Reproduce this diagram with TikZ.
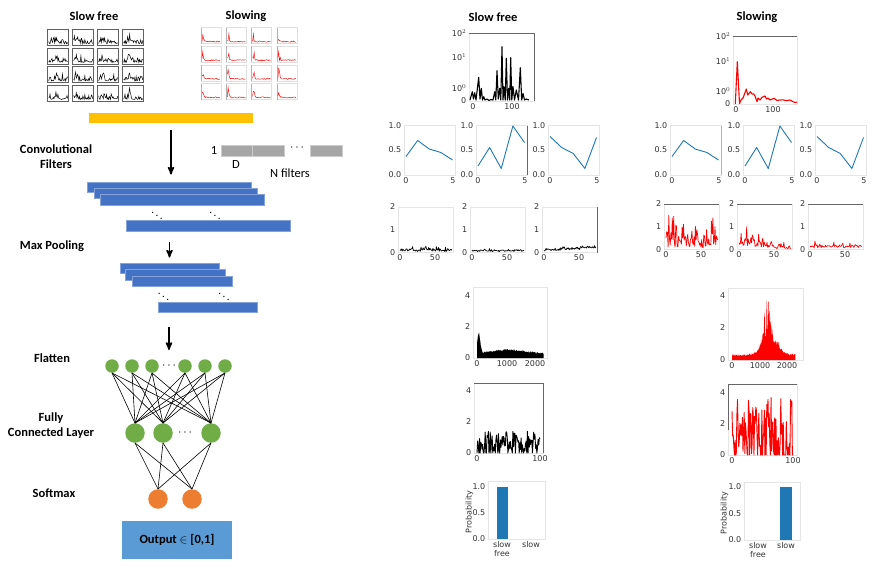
\documentclass[tikz,border=0pt]{standalone}
\usepackage{fontspec}
\usepackage{xcolor}
\setmainfont{Carlito}
\newfontfamily\tickfont{DejaVu Sans}
\usetikzlibrary{arrows}

\definecolor{convblue}{HTML}{4472C4}
\definecolor{inputyellow}{HTML}{FFC000}
\definecolor{nngreen}{HTML}{70AD47}
\definecolor{nnorange}{HTML}{ED7D31}
\definecolor{outblue}{HTML}{5B9BD5}
\definecolor{mplblue}{HTML}{1F77B4}
\definecolor{filtgray}{HTML}{A6A6A6}

\begin{document}
\begin{tikzpicture}[x=1pt,y=-1pt,>=stealth',node distance=20pt]
  \tikzstyle{heading}=[font=\fontsize{12.5}{15}\selectfont\bfseries,align=center,inner sep=1pt]
  \tikzstyle{note}=[font=\fontsize{12.5}{15}\selectfont,inner sep=1pt]
  \tikzstyle{featbar}=[rectangle,inner sep=0pt,minimum height=10.5pt,fill=convblue,draw=convblue!65!white,line width=0.4pt]
  \tikzstyle{filt}=[rectangle,inner sep=0pt,minimum width=31.5pt,minimum height=11pt,fill=filtgray,draw=gray!40,line width=0.4pt]
  \tikzstyle{flat}=[circle,inner sep=0pt,minimum size=13.5pt,fill=nngreen]
  \tikzstyle{dense}=[circle,inner sep=0pt,minimum size=19.5pt,fill=nngreen]
  \tikzstyle{soft}=[circle,inner sep=0pt,minimum size=19.5pt,fill=nnorange]
  \tikzstyle{outbox}=[rectangle,fill=outblue,minimum width=110pt,minimum height=38pt,font=\fontsize{12.5}{15}\selectfont\bfseries]
  \tikzstyle{flow}=[->,line width=1.6pt]
  \tikzstyle{wire}=[line width=0.6pt]
  \tikzstyle{axbox}=[draw=gray!20,line width=0.5pt]
  \tikzstyle{spine}=[draw=gray!80!black,line width=0.7pt]
  \tikzstyle{ytick}=[font=\tickfont\fontsize{8}{9}\selectfont,text=black!80,anchor=east,inner sep=1pt,xshift=-1.5pt]
  \tikzstyle{xtick}=[font=\tickfont\fontsize{8}{9}\selectfont,text=black!80,anchor=north,inner sep=1pt,yshift=-1pt,align=center]
  \tikzstyle{sig}=[line width=0.9pt,line join=round]
  \tikzstyle{dotsdiag}=[font=\fontsize{11}{11}\selectfont\boldmath,inner sep=0pt]
  \useasboundingbox (0,0) rectangle (872,581);

  % ---- network ----
  \node[heading] (sf) at (94,16) {Slow free};
  \node[heading] (sw) at (246,16) {Slowing};
  \foreach \rw in {0,...,3}
    \foreach \cl in {0,...,3}{
      \pgfmathtruncatemacro{\sd}{4*\rw+\cl+3}
      \pgfmathsetseed{\sd}
      \begin{scope}[shift={(47.7+25*\cl,45.3+18.6*\rw)},y=1pt]
        \draw[gray!75!black,line width=0.5pt] (0,0) rectangle (21,16);
        \draw[line width=0.5pt] plot[domain=1:20,samples=30] (\x,{1.5+7*rnd*rnd+7*rnd*exp(-(\x-3-2*mod(\sd,4))*(\x-3-2*mod(\sd,4))/3)});
      \end{scope}
      \begin{scope}[shift={(201+25.3*\cl,43.7+18.6*\rw)},y=1pt]
        \draw[gray!25,line width=0.5pt] (0,0) rectangle (20,16);
        \draw[gray!60,line width=0.6pt] (0,0) -- (0,16);
        \draw[red,line width=0.45pt] plot[domain=1:19,samples=24] (\x,{1.5+1.2*rnd+11*rnd*exp(-(\x-2)*(\x-2)/1.2)});
      \end{scope}
    }
  \node[rectangle,fill=inputyellow,minimum width=164pt,minimum height=10pt,inner sep=0pt] (inp) at (171,118) {};

  \node[heading] (convlab) at (56,157) {Convolutional\\Filters};
  \node[note] (one) at (214,150) {1};
  \node[filt] (g1) at (236.5,150.5) {};
  \node[filt] (g2) [right of=g1,node distance=31.5pt] {};
  \node[note] (gd) at (297,148) {$\cdots$};
  \node[filt] (g3) at (326,150.5) {};
  \node[note] (dlab) at (236,164) {D};
  \node[note] (nlab) at (290,173) {N filters};

  \node[featbar,minimum width=164pt] (cv1) at (169,187) {};
  \node[featbar,minimum width=163pt] (cv2) at (175.5,193) {};
  \node[featbar,minimum width=164pt] (cv3) at (182,199.5) {};
  \node[dotsdiag] (cvd1) at (157,213) {$\ddots$};
  \node[dotsdiag] (cvd2) at (215,213) {$\ddots$};
  \node[featbar,minimum width=164pt] (cvn) at (208,225.5) {};

  \node[heading] (poollab) at (52,246) {Max Pooling};
  \node[featbar,minimum width=99pt] (pl1) at (169.5,268) {};
  \node[featbar,minimum width=100pt] (pl2) at (175,274.5) {};
  \node[featbar,minimum width=100pt] (pl3) at (182,281) {};
  \node[dotsdiag] (pld1) at (163.5,293.5) {$\ddots$};
  \node[dotsdiag] (pld2) at (224,293.5) {$\ddots$};
  \node[featbar,minimum width=99pt] (pln) at (207.5,307) {};

  \node[heading] (flatlab) at (52,358) {Flatten};
  \node[flat] (f1) at (112,366) {};
  \node[flat] (f2) [right of=f1] {};
  \node[flat] (f3) [right of=f2] {};
  \node[note] (fdots) at (169,366) {$\cdots$};
  \node[flat] (f4) at (185,366) {};
  \node[flat] (f5) [right of=f4] {};
  \node[flat] (f6) [right of=f5] {};

  \node[heading] (fclab) at (51,425.5) {Fully\\Connected Layer};
  \node[dense] (c1) at (135,433) {};
  \node[dense] (c2) [right of=c1,node distance=28pt] {};
  \node[note] (cdots) at (185,433) {$\cdots$};
  \node[dense] (c3) at (211,433) {};

  \node[heading] (softlab) at (54,493) {Softmax};
  \node[soft] (s1) at (158,499) {};
  \node[soft] (s2) [right of=s1,node distance=34pt] {};
  \node[outbox] (out) at (177,540) {Output $\in$ [0,1]};

  \draw[flow,shorten <=7pt,shorten >=7pt] (inp) -- (inp |- cv1.north);
  \draw[flow,shorten <=11pt,shorten >=5pt] (pl1.north |- cvn.south) -- (pl1.north);
  \draw[flow,shorten <=15pt,shorten >=16pt] (fdots.center |- pln.south) -- (fdots.center);

  \path[wire]
    (f1.south) edge (c1.north) edge (c2.north) edge (c3.north)
    (f2.south) edge (c1.north) edge (c2.north) edge (c3.north)
    (f3.south) edge (c1.north) edge (c2.north) edge (c3.north)
    (f4.south) edge (c1.north) edge (c2.north) edge (c3.north)
    (f5.south) edge (c1.north) edge (c2.north) edge (c3.north)
    (f6.south) edge (c1.north) edge (c2.north) edge (c3.north);
  \path[wire]
    (c1.south) edge (s1.north) edge (s2.north)
    (c2.south) edge (s1.north) edge (s2.north)
    (c3.south) edge (s1.north) edge (s2.north);

  % ---- layer outputs ----
  \node[heading] (sft) at (493,17) {Slow free};
  \node[heading] (swt) at (757,17) {Slowing};

  % input spectra, log scale
  \draw[axbox] (469,33) rectangle (534,101);
  \draw[spine] (469,33) -- (534,33) -- (534,101);
  \foreach \vy/\tp [count=\kk] in {33/10$^2$,57/10$^1$,88/10$^0$,101/0}
    \node[ytick] (sa\kk) at (469,\vy) {\tp};
  \node[xtick] (sa5) at (473,101) {0};
  \node[xtick] (sa6) at (512,101) {100};
  \begin{scope}[shift={(469,101)},y=1pt]
    \draw[sig,line width=1.1pt] (1,1) -- (3.3,9.3) -- (4.5,2) -- (5.7,8.3) -- (7,1) -- (9.7,23.7) -- (11,2) -- (12.3,12.7)
      -- (13.5,1) -- (14.7,4.3) -- (16,1) -- (18,2) -- (20,0.5) -- (22,1.5) -- (24,1) -- (25.7,9.3) -- (26.8,1)
      -- (28,30.3) -- (29.3,2) -- (30.7,12.7) -- (31.8,1) -- (33,54.3) -- (34,1) -- (35,14.3) -- (36.2,1)
      -- (37.3,42.7) -- (38.5,1) -- (39.7,12.7) -- (40.7,1) -- (41.7,43.3) -- (42.8,1) -- (44,14.3) -- (45.5,1)
      -- (47.3,11) -- (49.5,1) -- (51.3,33.3) -- (52.7,1) -- (54,7.7) -- (55.5,1) -- (57.3,2) -- (60,1);
  \end{scope}

  \draw[axbox] (733,36) rectangle (797,104);
  \draw[spine] (733,36) -- (797,36);
  \foreach \vy/\tp [count=\kk] in {36/10$^2$,61/10$^1$,91/10$^0$,104/0}
    \node[ytick] (sb\kk) at (733,\vy) {\tp};
  \node[xtick] (sb5) at (736,104) {0};
  \node[xtick] (sb6) at (773,104) {100};
  \begin{scope}[shift={(733,104)},y=1pt]
    \draw[sig,red,line width=1.1pt] (2.3,0) -- (4.3,42.3) -- (6.5,0.5) -- (8,4) -- (10,6) -- (13.3,15) -- (14.7,9)
      -- (17.3,12.3) -- (19,10) -- (20.7,10) -- (22,8) -- (24,2.3) -- (25,6) -- (27,4) -- (29,6.7) -- (32,8)
      -- (33.5,5) -- (35,6) -- (37,4) -- (41,5.7) -- (44,3.5) -- (47,4) -- (50,4.2) -- (53,3.3) -- (57,4)
      -- (60,2.3) -- (62,1.5) -- (64,2);
  \end{scope}

  % convolution filters
  \foreach \lx [count=\kk] in {404,476,548,670,743,815}{
    \draw[axbox] (\lx,125.5) rectangle ++(51,49.5);
    \node[ytick] (w\kk-a) at (\lx,125.5) {1.0};
    \node[ytick] (w\kk-b) at (\lx,150) {0.5};
    \node[ytick] (w\kk-c) at (\lx,175) {0.0};
    \node[xtick] (w\kk-d) at (\lx+2,175) {0};
    \node[xtick] (w\kk-e) at (\lx+49,175) {5};
  }
  \draw[spine] (527,125.5) -- (527,175);
  \draw[spine,draw=gray!60] (721,125.5) -- (721,175);
  \foreach \lx in {406,672}{
    \begin{scope}[shift={(\lx,175)},x=9.3pt,y=50pt]
      \draw[sig,mplblue] (0,.37) -- (1.25,.69) -- (2.5,.52) -- (3.75,.45) -- (5,.3);
    \end{scope}}
  \foreach \lx in {478,745}{
    \begin{scope}[shift={(\lx,175)},x=9.3pt,y=50pt]
      \draw[sig,mplblue] (0,.18) -- (1.25,.55) -- (2.5,.13) -- (3.75,.98) -- (5,.65);
    \end{scope}}
  \foreach \lx in {550,817}{
    \begin{scope}[shift={(\lx,175)},x=9.3pt,y=50pt]
      \draw[sig,mplblue] (0,.77) -- (1.25,.55) -- (2.5,.43) -- (3.75,.13) -- (5,.75);
    \end{scope}}

  % convolution outputs
  \foreach \lx/\tp [count=\kk] in {398/207,470/207,542/207,664/204,737/204,808/204}{
    \draw[axbox] (\lx,\tp) rectangle ++(55,45.5);
    \node[ytick] (v\kk-a) at (\lx,\tp) {2};
    \node[ytick] (v\kk-b) at (\lx,\tp+22.75) {1};
    \node[ytick] (v\kk-c) at (\lx,\tp+45.5) {0};
    \node[xtick] (v\kk-d) at (\lx+2,\tp+45.5) {0};
    \node[xtick] (v\kk-e) at (\lx+37,\tp+45.5) {50};
  }
  \draw[spine] (597,207) -- (597,252.5);
  \draw[spine] (664,204) -- (719,204) (737,204) -- (792,204) (808,204) -- (863,204);
  \pgfmathsetseed{21}
  \begin{scope}[shift={(400,252.5)},x=0.7pt,y=22.75pt]
    \draw[sig,line width=0.7pt] plot[domain=0:74,samples=75] (\x,{0.04+0.2*rnd*rnd+0.08*rnd});
  \end{scope}
  \begin{scope}[shift={(472,252.5)},x=0.7pt,y=22.75pt]
    \draw[sig,line width=0.7pt] plot[domain=0:74,samples=75] (\x,{0.03+0.12*rnd*rnd+0.05*rnd});
  \end{scope}
  \begin{scope}[shift={(544,252.5)},x=0.7pt,y=22.75pt]
    \draw[sig,line width=0.7pt] plot[domain=0:74,samples=75] (\x,{0.04+0.15*rnd*rnd+0.07*rnd+0.12*\x/74});
  \end{scope}
  \begin{scope}[shift={(666,249.5)},x=0.7pt,y=22.75pt]
    \draw[sig,red,line width=0.7pt] plot[domain=0:74,samples=75] (\x,{min(1.62,1.5*rnd*rnd+0.35*rnd)});
  \end{scope}
  \begin{scope}[shift={(739,249.5)},x=0.7pt,y=22.75pt]
    \draw[sig,red,line width=0.7pt] plot[domain=0:74,samples=75] (\x,{(0.15+1.3*rnd*rnd)*exp(-\x/40)+0.08*rnd});
  \end{scope}
  \begin{scope}[shift={(810,249.5)},x=0.7pt,y=22.75pt]
    \draw[sig,red,line width=0.7pt] plot[domain=0:74,samples=75] (\x,{0.05+0.25*rnd*rnd+0.1*rnd});
  \end{scope}

  % flattened features
  \draw[axbox] (473,287) rectangle (547,358);
  \foreach \vy/\tp [count=\kk] in {296/4,327/2,358/0}
    \node[ytick] (fa\kk) at (473,\vy) {\tp};
  \node[xtick] (fa4) at (477,358) {0};
  \node[xtick] (fa5) at (507,358) {1000};
  \node[xtick] (fa6) at (535,358) {2000};
  \begin{scope}[shift={(477,358)},x=0.029pt,y=15.5pt]
    \fill[black] (0,0) -- plot[domain=0:2300,samples=160] (\x,{0.22+1.3*exp(-((\x-60)/70)*((\x-60)/70))+0.25*exp(-((\x-1100)/800)*((\x-1100)/800))+0.12*rnd}) -- (2300,0) -- cycle;
  \end{scope}

  \draw[axbox] (728,288) rectangle (803,360);
  \foreach \vy/\tp [count=\kk] in {296/4,328/2,360/0}
    \node[ytick] (fb\kk) at (728,\vy) {\tp};
  \node[xtick] (fb4) at (732,360) {0};
  \node[xtick] (fb5) at (760,360) {1000};
  \node[xtick] (fb6) at (787,360) {2000};
  \begin{scope}[shift={(732,360)},x=0.0275pt,y=15.5pt]
    \fill[red] (0,0) -- plot[domain=0:2300,samples=160] (\x,{0.25+0.15*rnd+0.9*exp(-((\x-1350)/380)*((\x-1350)/380))+2.9*rnd*exp(-((\x-1280)/170)*((\x-1280)/170))+0.5*rnd*exp(-((\x-1700)/150)*((\x-1700)/150))}) -- (2300,0) -- cycle;
  \end{scope}

  % fully connected outputs
  \draw[axbox] (474,383) rectangle (543,453);
  \draw[spine] (474,383) -- (543,383) -- (543,453);
  \foreach \vy/\tp [count=\kk] in {391/4,422/2,453/0}
    \node[ytick] (da\kk) at (474,\vy) {\tp};
  \node[xtick] (da4) at (477,453) {0};
  \node[xtick] (da5) at (540,453) {100};
  \begin{scope}[shift={(477,453)},x=0.63pt,y=15.5pt]
    \draw[sig] plot[domain=0:100,samples=101] (\x,{max(0,1.7*rnd-0.3)});
  \end{scope}

  \draw[axbox] (728,384) rectangle (797,455);
  \draw[spine] (728,430) -- (728,384) -- (797,384);
  \foreach \vy/\tp [count=\kk] in {393/4,424/2,455/0}
    \node[ytick] (db\kk) at (728,\vy) {\tp};
  \node[xtick] (db4) at (732,455) {0};
  \node[xtick] (db5) at (793,455) {100};
  \begin{scope}[shift={(732,455)},x=0.61pt,y=15.5pt]
    \draw[sig,red] plot[domain=0:100,samples=101] (\x,{min(3.9,max(0,5.5*rnd-1.6))});
  \end{scope}

  % softmax probabilities
  \draw[axbox] (488,481) rectangle (545,539);
  \foreach \vy/\tp [count=\kk] in {487/1.0,513/0.5,539/0.0}
    \node[ytick] (pa\kk) at (488,\vy) {\tp};
  \fill[mplblue] (497,487) rectangle (508,539);
  \node[xtick] (pa4) at (502,539) {slow\\free};
  \node[xtick] (pa5) at (531,539) {slow};
  \node[xtick,anchor=center,rotate=90] (pa6) at (469.5,511) {Probability};

  \draw[axbox] (744,482) rectangle (800,540);
  \foreach \vy/\tp [count=\kk] in {487/1.0,513.5/0.5,540/0.0}
    \node[ytick] (pb\kk) at (744,\vy) {\tp};
  \fill[mplblue] (780,487) rectangle (792,540);
  \node[xtick] (pb4) at (758,540) {slow\\free};
  \node[xtick] (pb5) at (786,540) {slow};
  \node[xtick,anchor=center,rotate=90] (pb6) at (724.5,512) {Probability};
\end{tikzpicture}
\end{document}
